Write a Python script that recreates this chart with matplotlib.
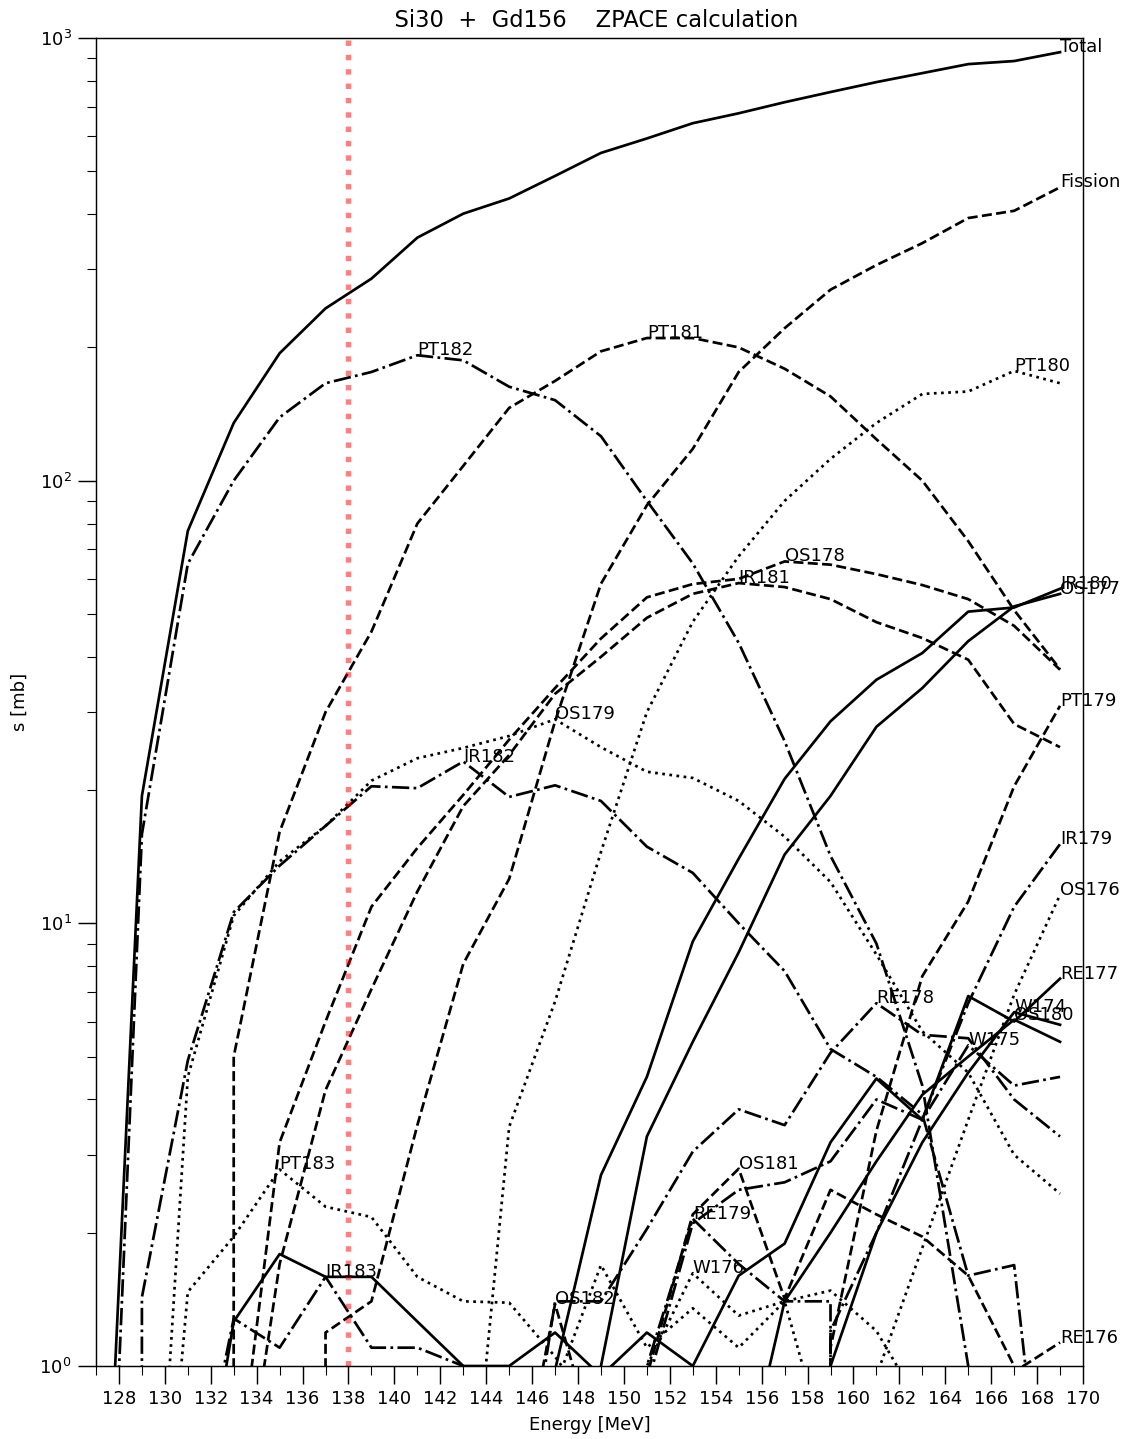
import numpy as np
import matplotlib
matplotlib.use("Agg")
import matplotlib.pyplot as plt

# Beam energies (MeV) of the ZPACE evaporation-residue calculation
energy = np.arange(127, 170, 2)

# Cross sections in mb, one entry per energy above
total   = [0.12, 19.4, 77, 135, 194, 245, 286, 354, 401, 434, 488, 550, 593, 642, 676, 716, 755, 795, 833, 873, 887, 929]
fission = [0, 0, 0, 0, 0, 1.19, 1.4, 3.5, 8.1, 12.6, 28.6, 58.5, 88, 118, 176, 221, 270, 307, 344, 392, 407, 460]

pt183 = [0, 0.1, 1.47, 1.96, 2.78, 2.29, 2.17, 1.59, 1.4, 1.39, 1.05, 0.75, 0.4, 0.2, 0, 0, 0, 0, 0, 0, 0, 0]
pt182 = [0.06, 15.9, 64.9, 100, 139, 166, 176, 192, 187, 163, 152, 126, 90, 65, 43, 25.8, 14.2, 9.0, 4.3, 1.0, 0.3, 0.1]
pt181 = [0, 0, 0, 5.0, 16.1, 30, 45.6, 80, 108, 146, 168, 196, 210, 210, 200, 179, 155, 124, 100, 73, 51, 37.5]
pt180 = [0, 0, 0, 0, 0, 0, 0, 0, 0.3, 3.47, 6.66, 14.5, 30, 48, 67.5, 90, 112, 135, 157, 159, 177, 166]
pt179 = [0, 0, 0, 0, 0, 0, 0, 0, 0, 0, 0, 0, 0, 0, 0, 0, 1.1, 3.4, 7.6, 11.2, 20.4, 31]

ir183 = [0, 0, 0.4, 1.28, 1.1, 1.59, 1.1, 1.1, 1.0, 0.5, 0, 0, 0, 0, 0, 0, 0, 0, 0, 0, 0, 0]
ir182 = [0, 1.43, 4.9, 10.6, 13.5, 16.6, 20.4, 20.2, 23.2, 19.3, 20.5, 18.9, 14.9, 13.0, 10.0, 7.8, 5.2, 4.5, 3.7, 1.6, 1.69, 0.2]
ir181 = [0, 0, 0, 0.35, 1.7, 4.2, 7.1, 11.8, 18.4, 24, 33, 40, 49, 55.5, 58.7, 57.5, 54, 47.9, 44.1, 39.4, 28.2, 25.0]
ir180 = [0, 0, 0, 0, 0, 0, 0, 0, 0, 0.2, 0.98, 2.7, 4.5, 9.1, 14.0, 21.2, 28.6, 35.5, 40.8, 50.6, 51.7, 57.0]
ir179 = [0, 0, 0, 0, 0, 0, 0, 0, 0, 0, 0, 0, 0, 0, 0, 0, 1.2, 2.0, 3.6, 6.6, 10.9, 15.1]

os182 = [0, 0, 0, 0, 0, 0, 0, 0, 0, 0.4, 1.38, 0.6, 0.2, 0, 0, 0, 0, 0, 0, 0, 0, 0]
os181 = [0, 0, 0, 0, 0, 0, 0, 0, 0, 0, 0, 0, 0.95, 2.2, 2.79, 1.42, 2.5, 2.2, 1.96, 1.6, 1.0, 0.4]
os180 = [0, 0, 0, 0, 0, 0, 0, 0, 0, 0, 0, 0, 0, 0, 0.5, 1.4, 2.0, 2.9, 4.1, 5.0, 6.06, 5.4]
os179 = [0, 0.1, 4.5, 10.4, 13.8, 16.6, 21, 23.6, 24.9, 26.5, 28.9, 25, 22, 21.3, 18.9, 15.7, 12.4, 8.5, 5.7, 4.6, 3.0, 2.45]
os178 = [0, 0, 0, 0.47, 3.2, 6.0, 10.9, 14.8, 19.5, 26, 34, 44, 54.5, 58.4, 60, 65.7, 64.6, 61.5, 58.1, 54, 47, 37.4]
os177 = [0, 0, 0, 0, 0, 0, 0, 0, 0, 0, 0.2, 1.0, 3.3, 5.4, 8.6, 14.3, 19.4, 27.8, 34, 43.4, 52, 55.5]
os176 = [0, 0, 0, 0, 0, 0, 0, 0, 0, 0, 0.9, 1.69, 1.1, 1.35, 1.1, 1.4, 0.6, 0.95, 1.85, 3.6, 6.9, 11.6]

re179 = [0, 0, 0, 0, 0, 0, 0, 0, 0, 0, 0, 0.3, 1.0, 2.15, 1.7, 1.4, 1.4, 0, 0, 0, 0, 0]
re178 = [0, 0, 0, 0, 0, 0, 0, 0, 0, 0.3, 1.4, 1.4, 2.04, 3.05, 3.8, 3.5, 5.1, 6.6, 5.6, 5.5, 4.0, 3.3]
re177 = [0, 0, 0.3, 1.26, 1.79, 1.59, 1.59, 1.26, 1.0, 1.0, 1.19, 0.95, 1.19, 1.0, 1.6, 1.89, 3.2, 4.46, 3.6, 6.85, 6.0, 7.5]
re176 = [0, 0, 0, 0, 0, 0, 0, 0, 0, 0, 0, 0, 0, 0, 0, 0, 0, 0, 0.3, 0.6, 0.97, 1.13]

w176 = [0, 0, 0, 0, 0, 0, 0, 0, 0, 0, 0, 0.5, 1.0, 1.62, 1.3, 1.4, 1.48, 1.2, 0.8, 0.5, 0.3, 0.1]
w175 = [0, 0, 0, 0, 0, 0, 0, 0, 0, 0, 0, 0, 0.9, 2.1, 2.5, 2.6, 2.9, 4.0, 3.6, 5.3, 4.3, 4.5]
w174 = [0, 0, 0, 0, 0, 0, 0, 0, 0, 0, 0, 0, 0, 0, 0, 0.4, 1.0, 2.0, 3.2, 4.6, 6.3, 5.9]

channels = [
    ("Total", total, "-"),
    ("Fission", fission, "--"),
    ("PT183", pt183, ":"),
    ("PT182", pt182, "-."),
    ("PT181", pt181, "--"),
    ("PT180", pt180, ":"),
    ("PT179", pt179, "--"),
    ("IR183", ir183, "-."),
    ("IR182", ir182, "-."),
    ("IR181", ir181, "--"),
    ("IR180", ir180, "-"),
    ("IR179", ir179, "-."),
    ("OS182", os182, "--"),
    ("OS181", os181, "--"),
    ("OS180", os180, "-"),
    ("OS179", os179, ":"),
    ("OS178", os178, "--"),
    ("OS177", os177, "-"),
    ("OS176", os176, ":"),
    ("RE179", re179, "-."),
    ("RE178", re178, "-."),
    ("RE177", re177, "-"),
    ("RE176", re176, "--"),
    ("W176", w176, ":"),
    ("W175", w175, "-."),
    ("W174", w174, "-"),
]

dpi = 130
fig = plt.figure(figsize=(1129 / dpi, 1439 / dpi), dpi=dpi)
ax = fig.add_axes([96 / 1129, 73 / 1439, (1083 - 96) / 1129, (1366 - 38) / 1439])
ax.set_yscale("log")

for name, values, style in channels:
    y = np.asarray(values, dtype=float)
    ax.plot(energy, y, style, color="black", lw=1.5)
    k = int(np.argmax(y))
    ax.text(energy[k], y[k], name, fontsize=10, ha="left", va="baseline")

# Reference beam energy
ax.axvline(138, color="red", alpha=0.5, ls=":", lw=3)

ax.set_xlim(127, 170)
ax.set_ylim(1, 1000)
ax.set_xticks(np.arange(128, 171, 2))
ax.set_xticks(np.arange(127, 170, 2), minor=True)
ax.tick_params(which="major", length=10)
ax.tick_params(which="minor", length=5)
ax.set_xlabel("Energy [MeV]")
ax.set_ylabel("s [mb]", labelpad=6)
ax.set_title("  Si30  +  Gd156    ZPACE calculation", fontsize=12.5)

fig.savefig("out.png", dpi=dpi)
